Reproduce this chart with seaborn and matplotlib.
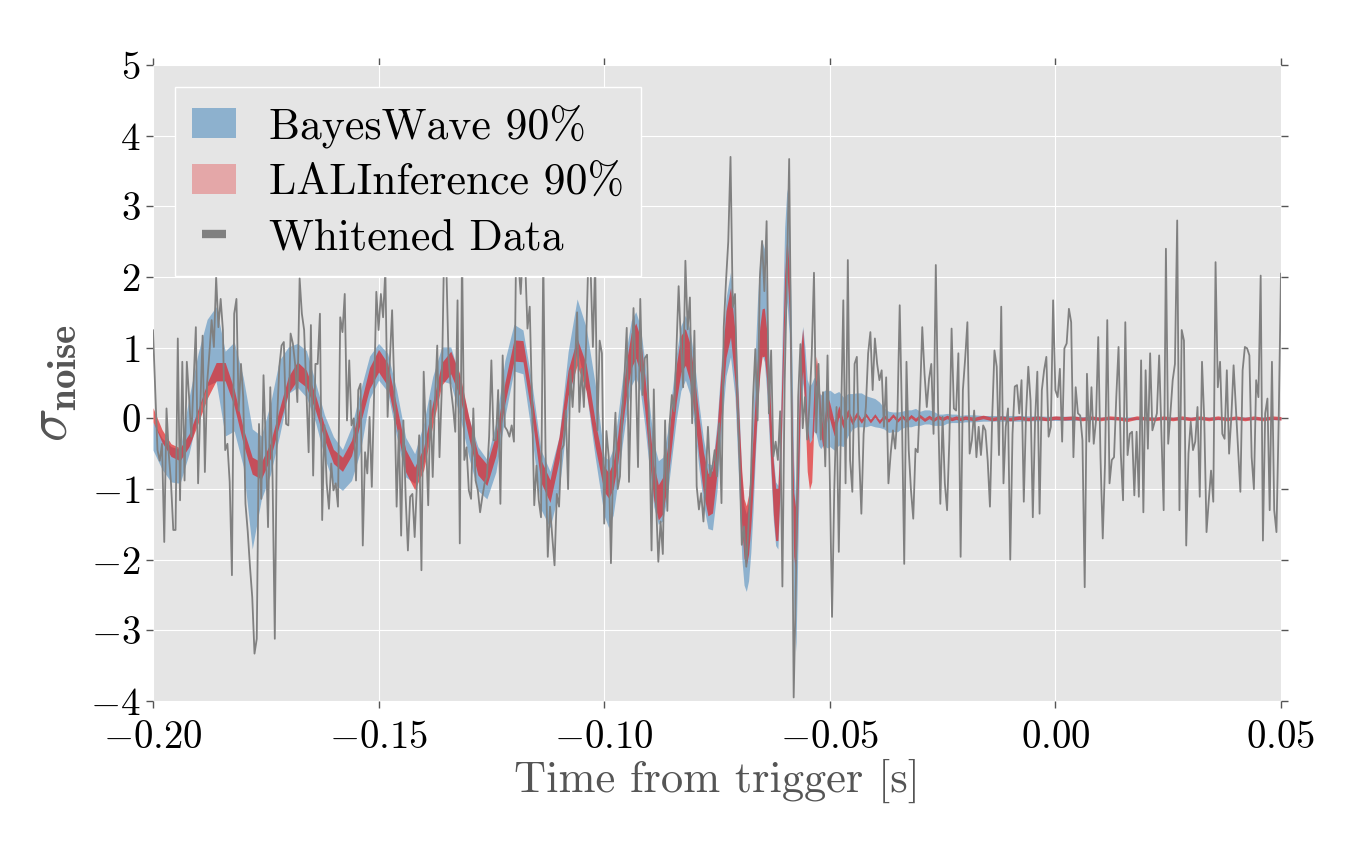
import numpy as np
import pandas as pd
import matplotlib
matplotlib.use("Agg")
import matplotlib.pyplot as plt
import seaborn as sns
from matplotlib.patches import Patch
from matplotlib.lines import Line2D
from matplotlib.ticker import FuncFormatter, MultipleLocator

# ---- whitened data: five 50 ms chunks, 0.5 ms apart ----
seg_start = [-0.20, -0.15, -0.10, -0.05, 0.00]
dt = 0.0005

white_1 = [1.25, 0.4, -0.45, -0.6, -0.36, -1.75, 0.14, -0.5, -0.92, -1.58,
           -1.58, 1.13, -1.16, 0.8, -0.88, 0.8, 0.3, -0.26, 0.5, 1.29,
           -0.92, 0.2, 1.17, -0.76, 0.5, 0.92, 1.39, 1.01, 2.0, 1.29,
           1.69, 1.25, -0.45, -0.36, -0.9, -2.22, 1.48, 1.69, 0.11, 0.77,
           0.3, -1.21, -1.6, -2.1, -2.53, -3.33, -3.12, -0.08, -1.14, 0.61,
           -0.36, -1.54, 0.44, -0.83, -3.12, -0.03, 0.73, 1.03, 1.08, -0.08,
           -0.1, 1.2, 1.06, 0.77, 0.23, 1.98, 1.48, 1.25, 0.4, -0.48,
           1.32, -0.81, 0.77, 0.77, 1.48, -1.44, -0.1, -0.92, -1.28, -0.64,
           -1.02, -0.92, -1.25, 1.43, 1.22, 1.76, -0.03, 0.82, -0.1, 0.0,
           -0.88, 0.4, 0.49, -1.8, -0.48, -0.78, 0.02, -0.97, 0.33, 1.79]
white_2 = [1.25, 1.76, 1.43, 2.1, 0.02, 0.82, 1.53, 0.4, -1.25, -0.17,
           -1.66, -0.03, -1.11, -1.87, -1.11, -1.07, -1.68, -0.92, -0.24, -2.15,
           0.66, -0.26, -1.23, 0.25, -0.83, 0.25, 1.03, -0.55, 0.4, 2.3,
           2.2, 0.87, 0.44, 0.16, -0.19, 1.67, -1.77, 2.4, -0.59, -0.41,
           -1.02, -1.14, 0.14, -0.88, -1.02, -1.33, -1.11, -0.92, -0.83, -0.26,
           0.82, -0.31, -0.31, 0.4, -1.21, 0.89, -0.12, -0.17, -0.26, -0.1,
           -0.33, 2.5, 2.2, 1.76, 2.4, 2.2, 1.27, 1.58, 0.25, -1.23,
           -0.67, -1.16, -1.4, 2.3, -0.45, -1.96, -1.25, -1.68, -2.08, -1.07,
           -1.25, -0.45, -0.38, 0.11, -1.0, 0.68, 0.16, 0.73, 1.5, 0.09,
           0.7, 0.16, 1.06, 2.3, 2.1, 1.01, 2.2, -0.17, 1.1, 0.92]
white_3 = [-1.49, -0.18, -0.54, -2.05, -0.59, 0.08, -1.0, -0.82, 0.08, 0.6,
           1.28, -0.9, 0.49, 1.56, 0.64, -0.69, 1.69, 0.33, 0.85, 0.9,
           -0.18, -1.87, 0.41, -1.2, -2.03, -1.46, -1.92, -0.03, -1.31, -0.08,
           0.33, 0.1, 0.95, 1.87, 1.08, 0.44, 2.23, 1.26, 1.71, -0.07,
           1.24, -0.96, -1.29, -1.06, -1.46, -0.9, -0.12, -0.82, -0.68, -0.45,
           -0.82, -0.07, -1.2, 1.29, 1.94, 2.5, 3.7, 1.57, 1.76, 0.35,
           -0.6, -1.79, -1.53, -2.1, -1.5, -0.9, 0.3, 0.98, -0.03, 1.99,
           2.51, 1.8, 2.79, 0.07, 0.96, -0.54, -0.33, -0.59, 0.1, -2.38,
           0.5, 2.0, 3.67, 0.5, -3.95, -2.3, 0.3, 1.05, -0.14, 0.3,
           -0.3, 0.2, 0.9, 2.06, -0.2, 0.77, -0.3, 0.37, -0.68, 0.89]
white_4 = [-0.8, -2.81, -1.0, 0.16, -1.89, 0.0, 1.67, -0.92, 2.24, -0.59,
           -1.04, 0.77, 0.87, -0.5, -1.35, -0.22, 0.16, 0.92, 1.22, 0.4,
           1.13, 0.77, 0.54, 0.68, -0.12, 0.58, -0.92, -0.5, -0.17, -0.43,
           0.07, 1.6, 0.02, -2.06, 0.8, -0.45, -1.02, -1.42, -0.43, -0.48,
           0.3, 1.29, 0.63, 0.16, 0.56, 0.77, -0.22, 2.17, 0.16, -1.21,
           0.02, -0.92, -1.3, -0.31, 1.27, 0.14, 0.11, 0.92, -1.96, 0.4,
           0.84, 1.36, -0.5, -0.31, 0.11, -0.55, -0.12, -0.52, -0.1, -0.17,
           -0.6, -1.25, 0.02, 0.96, 0.73, -0.52, 1.58, -0.92, -0.12, 0.14,
           -2.0, -0.22, 0.45, 0.47, 0.07, 0.54, -1.18, 0.07, 0.73, 0.25,
           -1.4, -0.03, 0.66, -1.35, 0.4, 0.68, 0.87, -0.26, -0.12, 1.67]
white_5 = [0.4, 0.3, 0.7, -0.33, 0.99, 1.06, 1.55, 1.36, -0.55, 0.44,
           0.07, 0.04, -0.31, -2.39, 0.63, -0.33, 0.44, -0.36, -0.03, 1.15,
           -0.55, -1.7, -0.64, 1.39, -0.92, -0.59, -0.55, 0.3, 1.01, -0.5,
           -1.16, 1.36, -0.52, -0.22, -0.19, -1.09, -0.19, -1.11, 0.82, -1.33,
           0.68, -0.43, 0.92, -0.17, -0.05, 0.07, 0.89, -0.22, -1.3, 2.4,
           -0.36, 0.07, 0.54, 0.77, 2.8, -1.3, 1.25, 1.1, -1.8, -0.5,
           -0.05, -0.45, -0.33, 0.16, -1.11, 0.8, -0.03, -1.61, -1.16, -0.74,
           -1.18, 2.21, 0.44, 0.8, -0.22, -0.29, 0.68, -0.5, 0.02, 0.75,
           0.16, -0.45, -1.04, 0.68, 1.01, 0.99, 0.89, -0.55, -1.0, 0.54,
           0.3, 2.02, -1.73, 0.07, 0.28, -1.3, 0.8, -1.3, -1.61, 0.0, 2.05]

# ---- 90% bands (centre and half width) on a time grid ----
band_pieces = [(-0.200, -0.100, 51), (-0.099, -0.070, 30), (-0.0695, -0.0505, 39),
               (-0.050, -0.020, 31), (-0.018, 0.050, 35)]

red_mid = [0.05, -0.25, -0.45, -0.51, -0.31, 0.03, 0.39, 0.66, 0.66, 0.29,
           -0.25, -0.67, -0.74, -0.46, 0.02, 0.47, 0.67, 0.56, 0.22, -0.2,
           -0.54, -0.65, -0.42, 0.07, 0.57, 0.815, 0.62, 0.02, -0.6, -0.85,
           -0.57, 0.06, 0.63, 0.79, 0.47, -0.13, -0.65, -0.8, -0.38, 0.36,
           0.96, 0.95, 0.16, -0.75, -1.03, -0.43, 0.5, 0.94, 0.58, -0.22, -0.86,
           # chirp
           -0.95, -0.81, -0.44, 0.08, 0.59, 0.96, 1.1, 0.9, 0.36, -0.32,
           -0.91, -1.19, -1.09, -0.68, -0.09, 0.5, 0.91, 1.01, 0.79, 0.32,
           -0.26, -0.77, -1.08, -1.04, -0.47, 0.42, 1.19, 1.5, 0.87, -0.52,
           # merger
           -1.15, -1.56, -1.66, -1.5, -1.13, -0.62, -0.04, 0.52, 0.96, 1.21,
           1.22, 0.91, 0.32, -0.37, -0.99, -1.36, -1.36, -0.63, 0.59, 1.75,
           2.33, 1.82, 0.11, -1.5, -1.75, -0.64, 0.6, 0.97, 0.41, -0.42,
           -0.68, -0.6, 0.2, 0.68, 0.45, -0.05, -0.28, -0.05, 0.18,
           # ringdown
           0.1, -0.15, 0.1, -0.08, 0.08, -0.05, 0.06, -0.04, 0.05, -0.04,
           0.04, -0.05, 0.03, -0.03, 0.04, -0.03, 0.03, -0.03, 0.03, -0.02,
           0.03, -0.02, 0.02, -0.02, 0.02, -0.01, 0.02, -0.01, 0.01, -0.01, 0.01,
           # tail
           -0.01, 0.02, -0.01, 0.01, -0.01, 0.01, -0.01, 0.01, -0.01, 0.01,
           0.0, 0.01, -0.01, 0.01, -0.01, 0.01, 0.0, -0.02, 0.01, 0.0,
           -0.01, 0.01, -0.01, 0.01, -0.01, 0.01, -0.01, 0.01, -0.01, 0.01,
           -0.01, 0.01, -0.01, 0.01, 0.0]
red_half = [0.1, 0.09, 0.09, 0.09, 0.09, 0.1, 0.11, 0.13, 0.13, 0.12,
            0.11, 0.12, 0.12, 0.11, 0.11, 0.12, 0.13, 0.12, 0.11, 0.1,
            0.1, 0.1, 0.11, 0.13, 0.15, 0.16, 0.16, 0.16, 0.16, 0.16,
            0.16, 0.16, 0.16, 0.16, 0.16, 0.15, 0.15, 0.15, 0.15, 0.15,
            0.15, 0.15, 0.16, 0.16, 0.16, 0.17, 0.18, 0.19, 0.19, 0.18, 0.18,
            0.18, 0.19, 0.2, 0.22, 0.24, 0.25, 0.25, 0.25, 0.25, 0.25,
            0.25, 0.25, 0.26, 0.26, 0.26, 0.26, 0.26, 0.26, 0.27, 0.28,
            0.28, 0.29, 0.3, 0.3, 0.31, 0.32, 0.33, 0.35, 0.36, 0.38,
            0.4, 0.42, 0.42, 0.42, 0.4, 0.38, 0.36, 0.35, 0.34, 0.34,
            0.34, 0.35, 0.36, 0.37, 0.37, 0.37, 0.37, 0.35, 0.3, 0.27,
            0.25, 0.3, 0.4, 0.45, 0.45, 0.42, 0.35, 0.3, 0.32, 0.33,
            0.33, 0.3, 0.25, 0.2, 0.18, 0.16, 0.15, 0.14, 0.13,
            0.12, 0.1, 0.08, 0.06, 0.05, 0.04, 0.035, 0.03, 0.025, 0.025,
            0.025, 0.025, 0.025, 0.025, 0.025, 0.025, 0.025, 0.025, 0.025, 0.025,
            0.025, 0.025, 0.025, 0.025, 0.025, 0.025, 0.025, 0.025, 0.025, 0.025, 0.025,
            0.025, 0.025, 0.025, 0.025, 0.025, 0.025, 0.025, 0.025, 0.025, 0.025,
            0.025, 0.025, 0.025, 0.025, 0.025, 0.025, 0.025, 0.025, 0.025, 0.025,
            0.025, 0.025, 0.025, 0.025, 0.025, 0.025, 0.025, 0.025, 0.025, 0.025,
            0.025, 0.025, 0.025, 0.025, 0.025]

blue_mid = [-0.25, -0.5, -0.65, -0.68, -0.1, 0.5, 0.93, 1.05, 0.35, 0.45,
            -0.05, -1.0, -0.7, -0.3, 0.28, 0.68, 0.75, 0.63, 0.23, -0.25,
            -0.59, -0.73, -0.5, -0.03, 0.58, 0.8, 0.65, 0.07, -0.55, -0.71,
            -0.35, 0.33, 0.77, 0.75, 0.31, -0.27, -0.71, -0.86, -0.41, 0.42,
            1.0, 0.94, 0.11, -0.87, -1.15, -0.64, 0.52, 1.34, 0.84, -0.03, -0.96,
            -1.07, -0.9, -0.45, 0.08, 0.55, 0.92, 1.05, 0.85, 0.35, -0.25,
            -0.8, -1.05, -1.0, -0.65, -0.1, 0.45, 0.85, 1.0, 0.8, 0.35,
            -0.25, -0.75, -1.1, -1.12, -0.55, 0.35, 1.15, 1.47, 0.9, -0.6,
            -1.4, -1.8, -1.9, -1.75, -1.3, -0.6, 0.2, 0.9, 1.45, 1.7,
            1.6, 1.1, 0.35, -0.4, -1.0, -1.35, -1.4, -0.6, 0.7, 1.9,
            2.45, 2.1, 0.3, -1.6, -2.3, -0.8, 0.5, 0.9, 0.6, 0.15,
            0.05, 0.1, 0.2, 0.15, 0.0, -0.05, 0.0, 0.0, -0.02,
            0.0, -0.05, 0.0, -0.05, 0.05, 0.1, 0.12, 0.12, 0.1, 0.1,
            0.08, 0.05, 0.0, -0.05, -0.05, -0.05, -0.02, 0.0, 0.0, 0.02,
            0.0, 0.02, 0.02, 0.0, -0.02, -0.02, 0.0, 0.0, 0.0, -0.01, 0.0,
            0.0, 0.0, 0.0, 0.0, 0.0, 0.0, 0.0, 0.0, 0.0, 0.0,
            0.0, 0.0, 0.0, 0.0, 0.0, 0.0, 0.0, 0.0, 0.0, 0.0,
            0.0, 0.0, 0.0, 0.0, 0.0, 0.0, 0.0, 0.0, 0.0, 0.0,
            0.0, 0.0, 0.0, 0.0, 0.0]
blue_half = [0.2, 0.22, 0.25, 0.24, 0.4, 0.42, 0.47, 0.53, 0.6, 0.63,
             0.63, 0.85, 0.45, 0.5, 0.54, 0.33, 0.31, 0.33, 0.28, 0.3,
             0.33, 0.29, 0.38, 0.43, 0.3, 0.26, 0.27, 0.33, 0.28, 0.21,
             0.28, 0.26, 0.24, 0.26, 0.28, 0.28, 0.31, 0.28, 0.35, 0.4,
             0.33, 0.31, 0.38, 0.42, 0.4, 0.38, 0.42, 0.35, 0.45, 0.52, 0.42,
             0.48, 0.47, 0.46, 0.46, 0.46, 0.46, 0.46, 0.46, 0.45, 0.45,
             0.45, 0.45, 0.45, 0.45, 0.45, 0.46, 0.46, 0.46, 0.46, 0.46,
             0.46, 0.46, 0.46, 0.46, 0.48, 0.5, 0.55, 0.6, 0.6, 0.58,
             0.58, 0.56, 0.55, 0.55, 0.6, 0.7, 0.75, 0.8, 0.8, 0.8,
             0.8, 0.7, 0.55, 0.45, 0.45, 0.45, 0.45, 0.45, 0.6, 0.8,
             0.8, 0.9, 1.0, 1.0, 1.0, 0.8, 0.5, 0.4, 0.4, 0.4,
             0.4, 0.4, 0.38, 0.38, 0.38, 0.38, 0.38, 0.4, 0.4,
             0.4, 0.4, 0.38, 0.35, 0.3, 0.25, 0.24, 0.24, 0.22, 0.2,
             0.2, 0.18, 0.15, 0.15, 0.14, 0.14, 0.12, 0.12, 0.12, 0.12,
             0.1, 0.1, 0.1, 0.1, 0.08, 0.08, 0.07, 0.06, 0.06, 0.05, 0.05,
             0.05, 0.04, 0.04, 0.04, 0.04, 0.04, 0.035, 0.035, 0.03, 0.03,
             0.03, 0.03, 0.025, 0.025, 0.02, 0.02, 0.02, 0.02, 0.02, 0.02,
             0.02, 0.02, 0.02, 0.02, 0.02, 0.02, 0.02, 0.02, 0.02, 0.02,
             0.02, 0.02, 0.02, 0.02, 0.02]

legend_labels = ["BayesWave 90%", "LALInference 90%", "Whitened Data"]
BLUE = "#377eb8"
RED = "#e41a1c"

# ---- assemble ----
segs = [white_1, white_2, white_3, white_4, white_5]
df = pd.DataFrame({
    "t": np.concatenate([s + dt * np.arange(len(v)) for s, v in zip(seg_start, segs)]),
    "whitened": np.concatenate(segs),
})
band_t = np.concatenate([np.linspace(a, b, n) for a, b, n in band_pieces])
red_mid, red_half = np.array(red_mid), np.array(red_half)
blue_mid, blue_half = np.array(blue_mid), np.array(blue_half)

sns.set_style("darkgrid", {"axes.facecolor": "#E5E5E5", "grid.color": "white"})
plt.rcParams.update({
    "font.family": "serif",
    "font.serif": ["cmr10"],
    "mathtext.fontset": "cm",
    "axes.formatter.use_mathtext": True,
    "text.color": "black",
})

fig = plt.figure(figsize=(13.61, 8.41), dpi=100)
ax = fig.add_axes([0.1124, 0.1665, 0.8288, 0.7562])

ax.fill_between(band_t, blue_mid - blue_half, blue_mid + blue_half,
                color=BLUE, alpha=0.5, lw=0, zorder=2)
ax.fill_between(band_t, red_mid - red_half, red_mid + red_half,
                color=RED, alpha=0.65, lw=0, zorder=3)
sns.lineplot(data=df, x="t", y="whitened", color="0.5", lw=1.3,
             estimator=None, sort=False, ax=ax, zorder=4)

ax.set_xlim(-0.20, 0.05)
ax.set_ylim(-4, 5)
ax.xaxis.set_major_locator(MultipleLocator(0.05))
ax.yaxis.set_major_locator(MultipleLocator(1))
ax.xaxis.set_major_formatter(FuncFormatter(lambda v, p: f"${round(v, 2) + 0.0:.2f}$"))
ax.yaxis.set_major_formatter(FuncFormatter(lambda v, p: f"${int(round(v))}$"))
ax.tick_params(axis="both", which="major", direction="out", length=5, width=1,
               color="#555555", labelcolor="black", labelsize=28,
               top=True, right=True, bottom=True, left=True)
ax.tick_params(axis="x", pad=9)
ax.tick_params(axis="y", pad=4)
for sp in ax.spines.values():
    sp.set_visible(False)

ax.set_xlabel("Time from trigger [s]", fontsize=32, color="#555555", labelpad=2)
ax.set_ylabel(r"$\sigma_{\mathbf{noise}}$", fontsize=40, color="#555555", labelpad=8)

handles = [Patch(facecolor=BLUE, alpha=0.5, edgecolor="none"),
           Patch(facecolor=RED, alpha=0.3, edgecolor="none"),
           Line2D([], [], color="0.5", lw=0, marker="_", markersize=17, markeredgewidth=6)]
leg = ax.legend(handles, legend_labels, loc="upper left", fontsize=31.5, frameon=True,
                facecolor="#E5E5E5", edgecolor="white", framealpha=1, fancybox=False,
                handlelength=1.0, handleheight=0.7, handletextpad=0.75,
                labelspacing=0.35, borderpad=0.4, numpoints=1, labelcolor="black")
leg.get_frame().set_linewidth(1.0)
leg.set_zorder(10)

fig.savefig("out.png", dpi=100)
